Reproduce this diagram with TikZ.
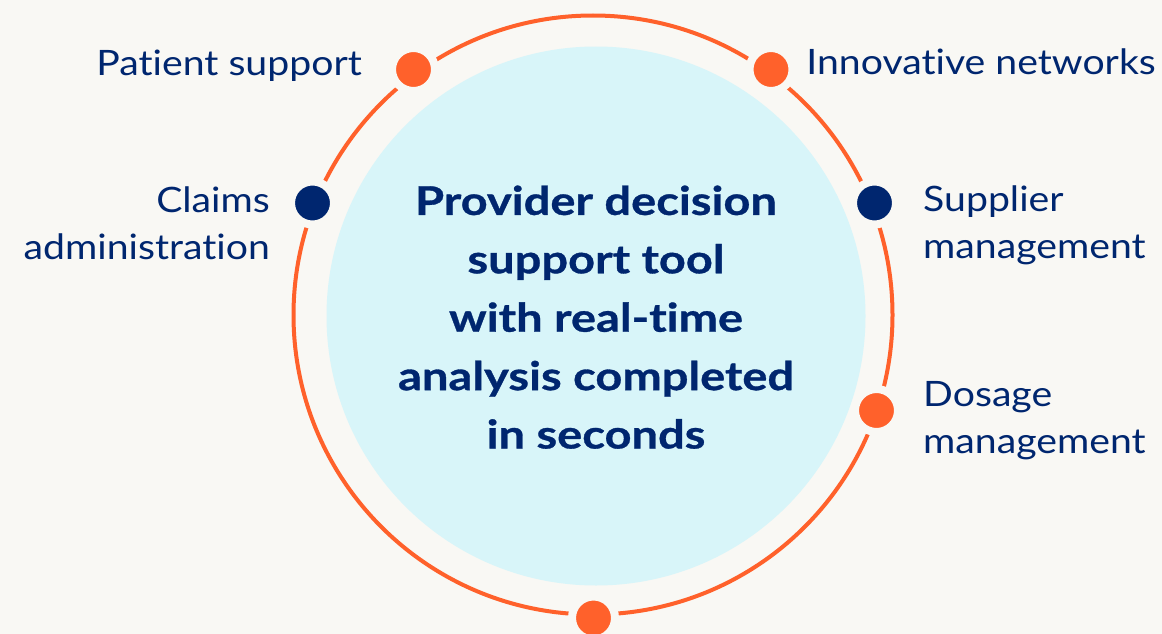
\documentclass[tikz,border=0pt]{standalone}
\usepackage{fontspec}
\setmainfont{Lato}[FakeStretch=1.12, Ligatures={NoCommon}]
\newfontfamily\hubfont{Lato}[FakeStretch=1.19, FakeBold=0.8, Ligatures={NoCommon}]
\definecolor{bgc}{HTML}{F9F8F4}
\definecolor{ringc}{HTML}{FF612B}
\definecolor{navyc}{HTML}{00266F}
\definecolor{hubc}{HTML}{D8F5F9}
\tikzset{
  dotbase/.style={circle, inner sep=0pt, outer sep=0pt, minimum size=43pt, draw=bgc, line width=8pt},
  odot/.style={dotbase, fill=ringc},
  ndot/.style={dotbase, fill=navyc},
  lbl/.style={inner sep=0pt, text=navyc, font=\fontsize{35}{47}\selectfont},
  hubtext/.style={inner sep=0pt, text=navyc, align=center, font=\hubfont\fontsize{39.5}{58.4}\selectfont\bfseries}
}
\begin{document}
\begin{tikzpicture}[x=1pt,y=-1pt]
\useasboundingbox (0,0) rectangle (1162,634);
\fill[bgc] (0,0) rectangle (1162,634);
\node[circle, fill=hubc, minimum size=539pt, inner sep=0pt] (hub) at (596,316) {};
\draw[ringc, line width=4pt] (593,315) circle[radius=299.5];
\node[hubtext, anchor=base] (title) at (596,448.5) {Provider decision\\support tool\\with real-time\\analysis completed\\in seconds};
\node[odot] (d1) at (413.5,69.5) {};
\node[odot] (d2) at (771,69.5) {};
\node[ndot] (d3) at (312.5,203) {};
\node[ndot] (d4) at (874.5,203) {};
\node[odot] (d5) at (876.5,410.5) {};
\node[odot] (d6) at (593.5,618) {};
\node[lbl, anchor=base east] (l1) at (362,75) {Patient support};
\node[lbl, anchor=base east] (l2) at (1156,74.5) {Innovative networks};
\node[lbl, anchor=base east, align=right] (l3) at (270,259.3) {Claims\\administration};
\node[lbl, anchor=base west, align=left] (l4) at (923,258.3) {Supplier\\management};
\node[lbl, anchor=base west, align=left] (l5) at (923,453.3) {Dosage\\management};
\end{tikzpicture}
\end{document}
